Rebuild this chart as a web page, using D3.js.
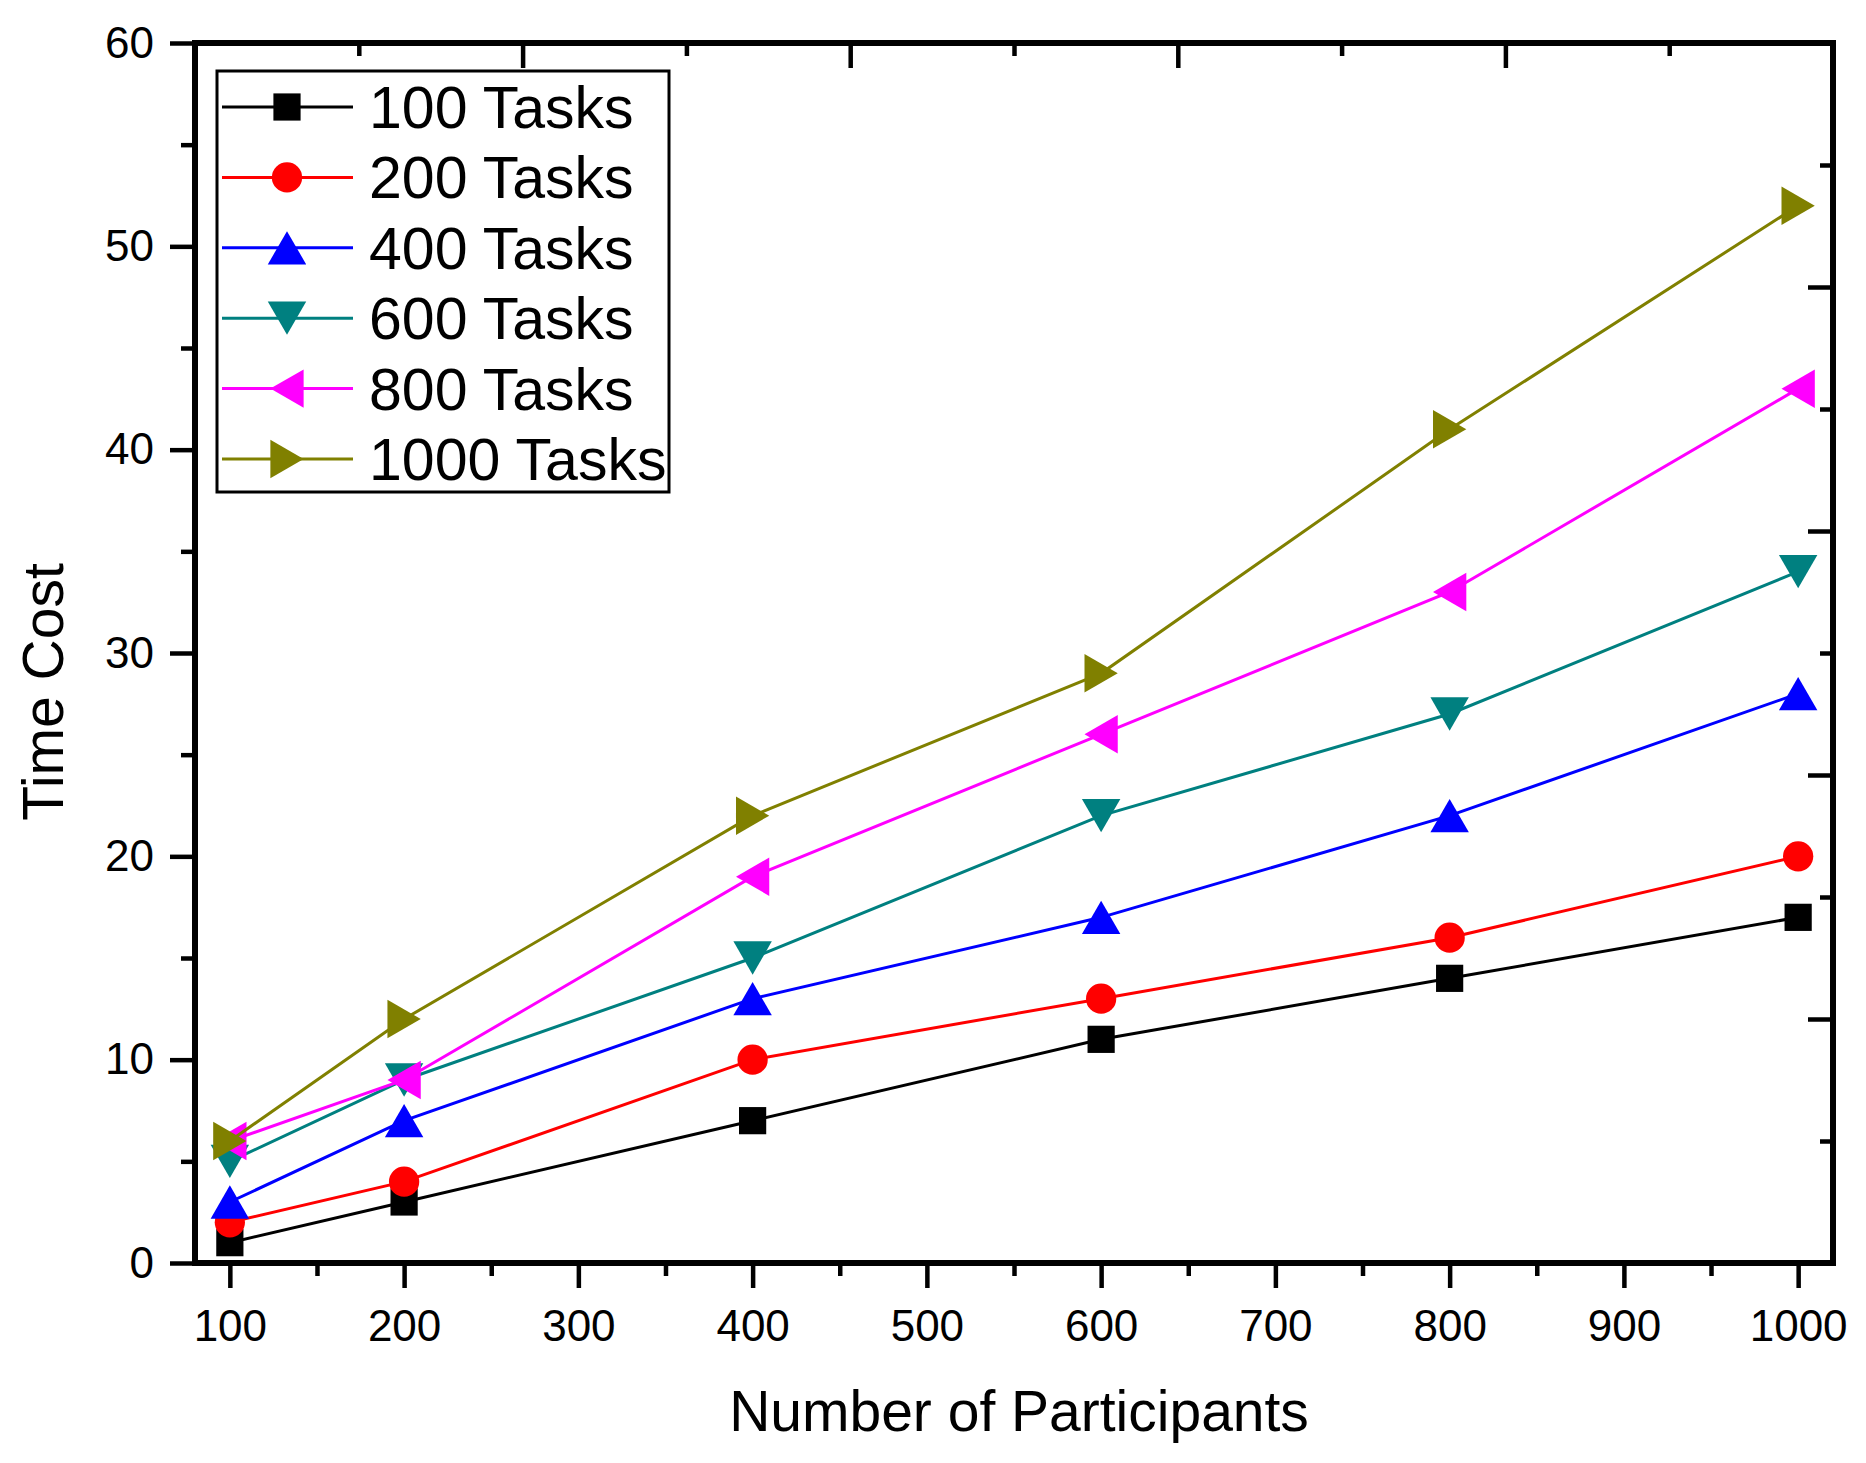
<!DOCTYPE html>
<html>
<head>
<meta charset="utf-8">
<script src="https://cdn.jsdelivr.net/npm/d3@7"></script>
<style>
  body { margin: 0; background: #fff; }
  svg { display: block; }
  text { font-family: "Liberation Sans", Arial, sans-serif; fill: #000; }
</style>
</head>
<body>
<div id="chart"></div>
<script>
// data
const participants = [100, 200, 400, 600, 800, 1000];
const tasks100 = [1, 3, 7, 11, 14, 17];
const tasks200 = [2, 4, 10, 13, 16, 20];
const tasks400 = [3, 7, 13, 17, 22, 28];
const tasks600 = [5, 9, 15, 22, 27, 34];
const tasks800 = [6, 9, 19, 26, 33, 43];
const tasks1000 = [6, 12, 22, 29, 41, 52];
const seriesNames = ["100 Tasks", "200 Tasks", "400 Tasks", "600 Tasks", "800 Tasks", "1000 Tasks"];

const xTicks = [100, 200, 300, 400, 500, 600, 700, 800, 900, 1000];
const xMinor = [150, 250, 350, 450, 550, 650, 750, 850, 950];
const yTicks = [0, 10, 20, 30, 40, 50, 60];
const yMinor = [5, 15, 25, 35, 45, 55];

const seriesValues = [tasks100, tasks200, tasks400, tasks600, tasks800, tasks1000];
const colors = ["#000000", "#ff0000", "#0000ff", "#008080", "#ff00ff", "#808000"];

// Set up the dimensions
const W = 1866, H = 1463;
const plot = {left: 195, right: 1833, top: 43, bottom: 1263};

// marker shapes (triangles centred on their bounding box, like Origin)
const tri = (dir) => ({
    draw(ctx, size) {
        const w = Math.sqrt(size * 2 / 0.866), h = w * 0.866;
        const pts = {
            up:    [[0, -h / 2], [w / 2, h / 2], [-w / 2, h / 2]],
            down:  [[0, h / 2], [w / 2, -h / 2], [-w / 2, -h / 2]],
            left:  [[-h / 2, 0], [h / 2, -w / 2], [h / 2, w / 2]],
            right: [[h / 2, 0], [-h / 2, -w / 2], [-h / 2, w / 2]]
        }[dir];
        ctx.moveTo(pts[0][0], pts[0][1]);
        ctx.lineTo(pts[1][0], pts[1][1]);
        ctx.lineTo(pts[2][0], pts[2][1]);
        ctx.closePath();
    }
});
const symbols = [
    d3.symbol(d3.symbolSquare, 740),
    d3.symbol(d3.symbolCircle, 720),
    d3.symbol(tri("up"), 640),
    d3.symbol(tri("down"), 640),
    d3.symbol(tri("left"), 640),
    d3.symbol(tri("right"), 640)
];

// Create SVG
const svg = d3.select("#chart")
    .append("svg")
    .attr("width", W)
    .attr("height", H);

svg.append("rect").attr("width", W).attr("height", H).attr("fill", "#fff");

// Create scales
const x = d3.scaleLinear().domain([80, 1020]).range([plot.left, plot.right]);
const y = d3.scaleLinear().domain([0, 60]).range([plot.bottom, plot.top]);
// opposite axes just split the frame in ten
const xTop = d3.scaleLinear().domain([0, 10]).range([plot.left, plot.right]);
const yRight = d3.scaleLinear().domain([0, 10]).range([plot.bottom, plot.top]);

function styleAxis(g, fontSize) {
    g.select(".domain").remove();
    g.selectAll(".tick line").attr("stroke", "#000").attr("stroke-width", 4.5);
    g.selectAll(".tick text")
        .style("font-size", fontSize + "px")
        .style("font-family", '"Liberation Sans", Arial, sans-serif');
}

// bottom axis
svg.append("g")
    .attr("transform", `translate(0,${plot.bottom})`)
    .call(d3.axisBottom(x).tickValues(xTicks).tickFormat(d3.format("d"))
        .tickSize(25).tickSizeOuter(0).tickPadding(22))
    .call(g => styleAxis(g, 44));
svg.append("g")
    .attr("transform", `translate(0,${plot.bottom})`)
    .call(d3.axisBottom(x).tickValues(xMinor).tickSize(13).tickFormat(""))
    .call(g => styleAxis(g, 44));

// left axis
svg.append("g")
    .attr("transform", `translate(${plot.left},0)`)
    .call(d3.axisLeft(y).tickValues(yTicks).tickSize(25).tickSizeOuter(0).tickPadding(16))
    .call(g => styleAxis(g, 44));
svg.append("g")
    .attr("transform", `translate(${plot.left},0)`)
    .call(d3.axisLeft(y).tickValues(yMinor).tickSize(14).tickFormat(""))
    .call(g => styleAxis(g, 44));

// top axis, ticks pointing in
svg.append("g")
    .attr("transform", `translate(0,${plot.top})`)
    .call(d3.axisTop(xTop).tickValues([2, 4, 6, 8]).tickSize(-25).tickFormat(""))
    .call(g => styleAxis(g, 44));
svg.append("g")
    .attr("transform", `translate(0,${plot.top})`)
    .call(d3.axisTop(xTop).tickValues([1, 3, 5, 7, 9]).tickSize(-13).tickFormat(""))
    .call(g => styleAxis(g, 44));

// right axis, ticks pointing in
svg.append("g")
    .attr("transform", `translate(${plot.right},0)`)
    .call(d3.axisRight(yRight).tickValues([2, 4, 6, 8]).tickSize(-25).tickFormat(""))
    .call(g => styleAxis(g, 44));
svg.append("g")
    .attr("transform", `translate(${plot.right},0)`)
    .call(d3.axisRight(yRight).tickValues([1, 3, 5, 7, 9]).tickSize(-13).tickFormat(""))
    .call(g => styleAxis(g, 44));

// frame
svg.append("rect")
    .attr("x", plot.left)
    .attr("y", plot.top)
    .attr("width", plot.right - plot.left)
    .attr("height", plot.bottom - plot.top)
    .attr("fill", "none")
    .attr("stroke", "#000")
    .attr("stroke-width", 6);

// axis labels
svg.append("text")
    .attr("text-anchor", "middle")
    .attr("x", (plot.left + plot.right) / 2 + 5)
    .attr("y", 1431)
    .style("font-size", "57px")
    .text("Number of Participants");

svg.append("text")
    .attr("text-anchor", "middle")
    .attr("transform", "translate(63,692) rotate(-90)")
    .style("font-size", "57px")
    .text("Time Cost");

// lines + markers, one series at a time
const line = d3.line()
    .x((d, i) => x(participants[i]))
    .y(d => y(d));

seriesValues.forEach((vals, s) => {
    const g = svg.append("g").attr("class", "series");
    g.append("path")
        .datum(vals)
        .attr("d", line)
        .attr("fill", "none")
        .attr("stroke", colors[s])
        .attr("stroke-width", 3);
    g.selectAll(".marker")
        .data(vals)
        .enter()
        .append("path")
        .attr("class", "marker")
        .attr("d", symbols[s])
        .attr("transform", (d, i) => `translate(${x(participants[i])},${y(d)})`)
        .attr("fill", colors[s]);
});

// legend
const legend = svg.append("g");
legend.append("rect")
    .attr("x", 217)
    .attr("y", 71)
    .attr("width", 452)
    .attr("height", 421)
    .attr("fill", "#fff")
    .attr("stroke", "#000")
    .attr("stroke-width", 3);

const rows = legend.selectAll(".row")
    .data(seriesNames)
    .enter()
    .append("g")
    .attr("class", "row")
    .attr("transform", (d, i) => `translate(0,${107 + i * 70.4})`);

rows.append("line")
    .attr("x1", 222).attr("x2", 353)
    .attr("stroke", (d, i) => colors[i])
    .attr("stroke-width", 3);
rows.append("path")
    .attr("d", (d, i) => symbols[i]())
    .attr("transform", "translate(287,0)")
    .attr("fill", (d, i) => colors[i]);
rows.append("text")
    .attr("x", 369)
    .attr("y", 21)
    .style("font-size", "59px")
    .text(d => d);
</script>
</body>
</html>
